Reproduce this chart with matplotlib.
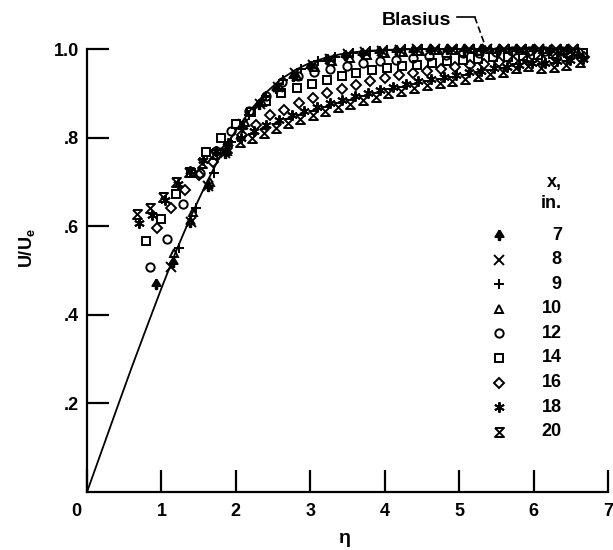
import numpy as np
import matplotlib
matplotlib.use("Agg")
import matplotlib.pyplot as plt
import matplotlib.transforms as mtransforms

plt.rcParams['font.family'] = ['Liberation Sans', 'DejaVu Sans']
plt.rcParams['font.weight'] = 'bold'
plt.rcParams['mathtext.fontset'] = 'custom'
plt.rcParams['mathtext.rm'] = 'Liberation Sans:bold'
plt.rcParams['mathtext.it'] = 'Liberation Sans:bold'
plt.rcParams['mathtext.bf'] = 'Liberation Sans:bold'

# Blasius profile, U/Ue against eta
blasius_eta = [0.0, 0.2, 0.4, 0.6, 0.8, 1.0, 1.2, 1.4, 1.6, 1.8, 2.0, 2.2, 2.4, 2.6,
               2.8, 3.0, 3.2, 3.4, 3.6, 3.8, 4.0, 4.4, 5.0, 6.7]
blasius_u = [0.0, 0.094, 0.188, 0.281, 0.371, 0.460, 0.545, 0.624, 0.696, 0.762, 0.816,
             0.863, 0.901, 0.931, 0.953, 0.969, 0.980, 0.988, 0.993, 0.996, 0.998,
             0.9995, 1.0, 1.0]

# measured profiles, station x in inches
eta_7 = [0.93, 1.16, 1.39, 1.62, 1.85, 2.08, 2.31, 2.54, 2.77, 3.0, 3.23, 3.46, 3.69,
         3.92, 4.15, 4.38, 4.61, 4.84, 5.07, 5.3, 5.53, 5.76, 5.99, 6.22, 6.45]
u_7 = [0.47, 0.52, 0.61, 0.69, 0.765, 0.825, 0.875, 0.912, 0.94, 0.962, 0.977, 0.986,
       0.991, 0.995, 0.997, 0.998, 1.0, 1.0, 1.0, 1.0, 1.0, 1.0, 1.0, 0.998, 1.0]

eta_8 = [1.13, 1.40, 1.63, 1.86, 2.1, 2.33, 2.57, 2.8, 3.03, 3.27, 3.5, 3.73, 3.97,
         4.2, 4.43, 4.67, 4.9, 5.13, 5.37, 5.6, 5.83, 6.07, 6.3, 6.53]
u_8 = [0.507, 0.61, 0.69, 0.765, 0.83, 0.875, 0.915, 0.945, 0.965, 0.978, 0.988, 0.993,
       0.996, 0.998, 1.0, 1.0, 1.0, 1.0, 1.0, 1.0, 1.0, 1.0, 1.0, 1.0]

eta_9 = [1.24, 1.47, 1.7, 1.93, 2.17, 2.4, 2.63, 2.87, 3.1, 3.33, 3.57, 3.8, 4.03,
         4.27, 4.5, 4.73, 4.97, 5.2, 5.43, 5.67, 5.9, 6.13, 6.37, 6.6]
u_9 = [0.55, 0.64, 0.72, 0.79, 0.85, 0.895, 0.93, 0.955, 0.972, 0.983, 0.99, 0.995,
       0.998, 0.999, 1.0, 1.0, 1.0, 1.0, 1.0, 1.0, 1.0, 1.0, 1.0, 1.0]

eta_10 = [1.17, 1.42, 1.65, 1.88, 2.12, 2.35, 2.59, 2.82, 3.06, 3.29, 3.53, 3.76, 4.0,
          4.24, 4.47, 4.71, 4.94, 5.18, 5.41, 5.65, 5.88, 6.12, 6.35, 6.59]
u_10 = [0.54, 0.633, 0.70, 0.77, 0.835, 0.88, 0.915, 0.94, 0.96, 0.972, 0.98, 0.986,
        0.99, 0.993, 0.995, 0.997, 0.998, 0.999, 1.0, 1.0, 0.998, 1.0, 0.997, 0.995]

eta_12 = [0.85, 1.07, 1.29, 1.52, 1.73, 1.94, 2.17, 2.4, 2.62, 2.83, 3.05, 3.27, 3.49,
          3.71, 3.93, 4.15, 4.38, 4.6, 4.82, 5.05, 5.27, 5.49, 5.71, 5.94, 6.16, 6.38,
          6.6]
u_12 = [0.507, 0.57, 0.65, 0.72, 0.77, 0.815, 0.86, 0.895, 0.925, 0.94, 0.948, 0.955,
        0.962, 0.968, 0.972, 0.976, 0.98, 0.984, 0.987, 0.99, 0.992, 0.993, 0.995,
        0.996, 0.996, 0.995, 0.993]

eta_14 = [0.79, 0.99, 1.19, 1.4, 1.6, 1.8, 2.0, 2.2, 2.41, 2.61, 2.82, 3.02, 3.22,
          3.42, 3.62, 3.83, 4.03, 4.23, 4.44, 4.64, 4.84, 5.05, 5.25, 5.45, 5.65, 5.86,
          6.06, 6.26, 6.46, 6.66]
u_14 = [0.567, 0.617, 0.673, 0.72, 0.768, 0.80, 0.83, 0.858, 0.883, 0.90, 0.912, 0.922,
        0.93, 0.94, 0.946, 0.952, 0.957, 0.961, 0.965, 0.968, 0.972, 0.975, 0.978,
        0.981, 0.983, 0.985, 0.987, 0.988, 0.99, 0.99]

eta_16 = [0.94, 1.13, 1.31, 1.5, 1.69, 1.88, 2.08, 2.27, 2.46, 2.65, 2.85, 3.04, 3.23,
          3.42, 3.61, 3.8, 4.0, 4.19, 4.38, 4.57, 4.76, 4.95, 5.15, 5.34, 5.53, 5.72,
          5.91, 6.1, 6.3, 6.49, 6.68]
u_16 = [0.597, 0.64, 0.682, 0.716, 0.745, 0.777, 0.806, 0.829, 0.85, 0.863, 0.877,
        0.89, 0.90, 0.91, 0.919, 0.928, 0.935, 0.941, 0.946, 0.951, 0.955, 0.959,
        0.963, 0.967, 0.97, 0.973, 0.976, 0.978, 0.98, 0.982, 0.983]

eta_18 = [0.70, 0.88, 1.05, 1.22, 1.39, 1.56, 1.73, 1.9, 2.07, 2.24, 2.41, 2.58, 2.75,
          2.92, 3.09, 3.26, 3.43, 3.6, 3.77, 3.94, 4.11, 4.28, 4.45, 4.62, 4.79, 4.96,
          5.13, 5.3, 5.47, 5.64, 5.81, 5.98, 6.15, 6.32, 6.49, 6.66]
u_18 = [0.608, 0.626, 0.66, 0.695, 0.725, 0.75, 0.77, 0.787, 0.80, 0.815, 0.828, 0.84,
        0.85, 0.86, 0.87, 0.878, 0.886, 0.893, 0.90, 0.908, 0.915, 0.921, 0.927, 0.932,
        0.937, 0.942, 0.947, 0.951, 0.956, 0.96, 0.965, 0.968, 0.968, 0.972, 0.975,
        0.978]

eta_20 = [0.67, 0.84, 1.02, 1.19, 1.37, 1.54, 1.71, 1.88, 2.05, 2.22, 2.38, 2.54, 2.7,
          2.86, 3.03, 3.2, 3.37, 3.54, 3.71, 3.88, 4.05, 4.22, 4.4, 4.57, 4.74, 4.91,
          5.08, 5.25, 5.42, 5.59, 5.76, 5.93, 6.1, 6.27, 6.44, 6.62]
u_20 = [0.628, 0.64, 0.667, 0.70, 0.722, 0.743, 0.762, 0.776, 0.79, 0.80, 0.81, 0.822,
        0.832, 0.842, 0.851, 0.86, 0.868, 0.876, 0.884, 0.892, 0.90, 0.906, 0.913,
        0.918, 0.923, 0.928, 0.933, 0.938, 0.944, 0.948, 0.956, 0.962, 0.957, 0.96,
        0.964, 0.97]

stations = ['7', '8', '9', '10', '12', '14', '16', '18', '20']

# marker shapes
spade = [(0, 1), (0.8, -0.3), (0.15, -0.3), (0.15, -0.9), (-0.15, -0.9),
         (-0.15, -0.3), (-0.8, -0.3), (0, 1)]
hourglass = [(-1, 1), (1, 1), (-1, -1), (1, -1), (-1, 1)]

styles = [
    dict(marker=spade, ms=7.5, mfc='k'),
    dict(marker='x', ms=6.5, mfc='none'),
    dict(marker='+', ms=7.5, mfc='none'),
    dict(marker='^', ms=6, mfc='none'),
    dict(marker='o', ms=6, mfc='none'),
    dict(marker='s', ms=5.5, mfc='none'),
    dict(marker='D', ms=5, mfc='none'),
    dict(marker=(6, 2, 0), ms=7.5, mfc='none'),
    dict(marker=hourglass, ms=6.5, mfc='none'),
]
series = [(eta_7, u_7), (eta_8, u_8), (eta_9, u_9), (eta_10, u_10), (eta_12, u_12),
          (eta_14, u_14), (eta_16, u_16), (eta_18, u_18), (eta_20, u_20)]

fig = plt.figure(figsize=(6.13, 5.5), dpi=100)
ax = fig.add_axes([87 / 613, 58 / 550, 521 / 613, 443 / 550])

ax.plot(blasius_eta, blasius_u, color='k', lw=1.3, clip_on=False)

for (e, u), st in zip(series, styles):
    ax.plot(e, u, ls='none', color='k', mec='k', mew=1.4, clip_on=False, **st)

# key in the lower right
ax.text(6.38, 0.698, 'x,', ha='right', va='center', fontsize=13, fontweight='bold')
ax.text(6.38, 0.652, 'in.', ha='right', va='center', fontsize=13, fontweight='bold')
for i, (lab, st) in enumerate(zip(stations, styles)):
    yy = 0.58 - i * 0.0555
    ax.plot([5.54], [yy], ls='none', color='k', mec='k', mew=1.4, clip_on=False, **st)
    ax.text(6.38, yy, lab, ha='right', va='center', fontsize=13, fontweight='bold')

# Blasius label with leader
ax.text(3.96, 1.065, 'Blasius', ha='left', va='center', fontsize=14,
        fontweight='bold', clip_on=False)
ax.plot([4.97, 5.21], [1.072, 1.072], color='k', lw=1.2, clip_on=False)
ax.plot([5.21, 5.37], [1.072, 0.998], color='k', lw=1.2, ls=(0, (4, 2)),
        clip_on=False)

ax.set_xlim(0, 7)
ax.set_ylim(0, 1.0)
ax.set_xticks(range(8))
ax.set_xticklabels([str(i) for i in range(8)])
ax.set_yticks([0.2, 0.4, 0.6, 0.8, 1.0])
ax.set_yticklabels(['.2', '.4', '.6', '.8', '1.0'])
ax.tick_params(direction='in', length=16, width=1.6, labelsize=13)
ax.tick_params(axis='x', pad=8)
ax.tick_params(axis='y', pad=6)
for lab in ax.get_xticklabels() + ax.get_yticklabels():
    lab.set_fontweight('bold')

# the origin label sits a little left of the corner
zero = ax.get_xticklabels()[0]
zero.set_transform(zero.get_transform() +
                   mtransforms.ScaledTranslation(-0.11, 0, fig.dpi_scale_trans))

ax.spines['top'].set_visible(False)
ax.spines['right'].set_visible(False)
ax.spines['left'].set_linewidth(1.6)
ax.spines['bottom'].set_linewidth(1.6)

ax.text(0.495, -0.104, 'η', transform=ax.transAxes, ha='center', va='center',
        fontsize=14, fontweight='bold')
ax.text(-0.115, 0.55, r'$\mathrm{U/U_e}$', transform=ax.transAxes, rotation=90,
        ha='center', va='center', fontsize=13)

fig.savefig('out.png', dpi=100)
